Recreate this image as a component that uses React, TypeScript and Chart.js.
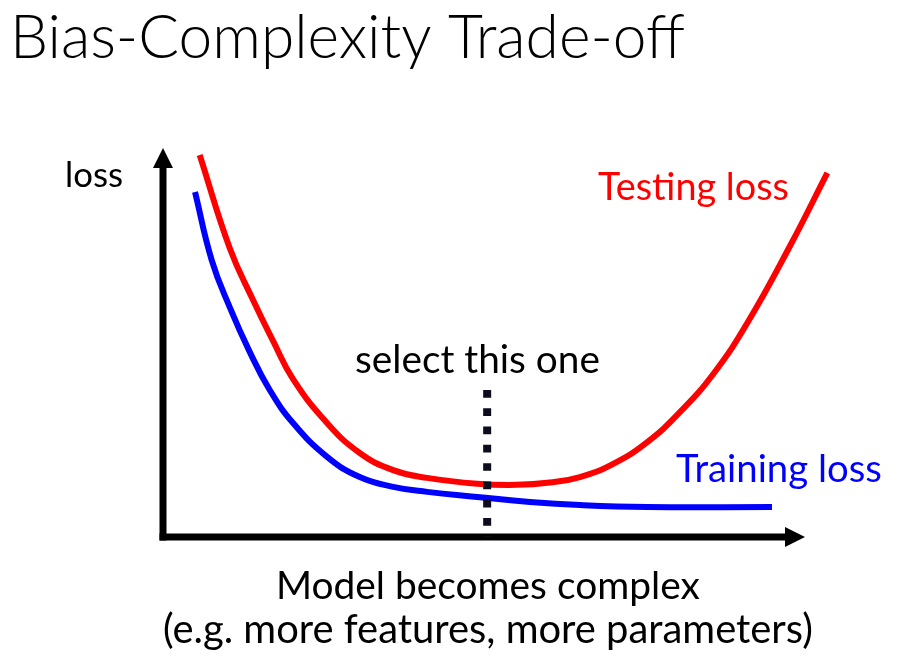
import { useEffect, useRef } from 'react';
import { Chart, registerables } from 'chart.js';

Chart.register(...registerables);

// Testing loss curve (model complexity -> loss)
const testingX = [5.5, 10.0, 13.5, 16.5, 19.5, 24.6, 29.5, 34.5, 39.6, 47.1, 53.0, 58.0, 62.5, 67.5, 72.6, 77.5, 82.5, 87.6, 94.0, 99.6];
const testingY = [98.2, 74.3, 60.9, 50.4, 40.6, 29.3, 21.6, 17.2, 15.2, 13.7, 13.4, 14.0, 15.4, 18.8, 24.4, 32.1, 41.9, 55.0, 74.8, 93.6];

// Training loss curve
const trainingX = [4.8, 7.3, 10.0, 13.0, 16.0, 19.5, 24.6, 29.5, 34.5, 39.6, 47.1, 55.0, 62.5, 72.6, 91.3];
const trainingY = [88.7, 71.2, 59.1, 47.6, 37.8, 29.3, 20.6, 15.4, 12.9, 11.6, 10.3, 9.0, 8.2, 7.7, 7.7];

// "select this one" marker
const selectX = [48.6, 48.6];
const selectY = [37.8, 0];

const X_AXIS_END = 96.25;

const TITLE = 'Bias-Complexity Trade-off';
const Y_LABEL = 'loss';
const TEST_LABEL = 'Testing loss';
const TRAIN_LABEL = 'Training loss';
const SELECT_LABEL = 'select this one';
const X_LABEL_1 = 'Model becomes complex';
const X_LABEL_2 = '(e.g. more features, more parameters)';

const FAMILY = "Lato, 'Open Sans', 'Noto Sans', sans-serif";

function zip(xs: number[], ys: number[]) {
  return xs.map((x, i) => ({ x, y: ys[i] }));
}

function fitText(
  ctx: CanvasRenderingContext2D,
  text: string,
  x0: number,
  x1: number,
  baseline: number,
  color: string,
  weight = '400'
) {
  ctx.font = `${weight} 100px ${FAMILY}`;
  const w = ctx.measureText(text).width;
  const size = (100 * (x1 - x0)) / w;
  ctx.font = `${weight} ${size}px ${FAMILY}`;
  ctx.fillStyle = color;
  ctx.textAlign = 'left';
  ctx.textBaseline = 'alphabetic';
  ctx.fillText(text, x0, baseline);
}

const decorPlugin = {
  id: 'decor',
  beforeDatasetsDraw(chart: any) {
    const { ctx, chartArea, scales } = chart;
    const left = chartArea.left;
    const bottom = chartArea.bottom;
    const top = chartArea.top;
    const xEnd = scales.x.getPixelForValue(X_AXIS_END);
    ctx.save();
    ctx.strokeStyle = '#000';
    ctx.fillStyle = '#000';
    ctx.lineWidth = 7;
    ctx.lineCap = 'butt';
    // y axis
    ctx.beginPath();
    ctx.moveTo(left, bottom + 3.5);
    ctx.lineTo(left, top + 18);
    ctx.stroke();
    ctx.beginPath();
    ctx.moveTo(left, top);
    ctx.lineTo(left - 10, top + 20);
    ctx.lineTo(left + 10, top + 20);
    ctx.closePath();
    ctx.fill();
    // x axis
    ctx.beginPath();
    ctx.moveTo(left - 3.5, bottom);
    ctx.lineTo(xEnd - 18, bottom);
    ctx.stroke();
    ctx.beginPath();
    ctx.moveTo(xEnd, bottom);
    ctx.lineTo(xEnd - 20, bottom - 10);
    ctx.lineTo(xEnd - 20, bottom + 10);
    ctx.closePath();
    ctx.fill();
    ctx.restore();
  },
  afterDraw(chart: any) {
    const { ctx } = chart;
    ctx.save();
    fitText(ctx, TITLE, 10, 685, 58, '#000', '300');
    fitText(ctx, Y_LABEL, 65, 123, 187, '#000');
    fitText(ctx, TEST_LABEL, 598, 789, 200, '#ff0000');
    fitText(ctx, SELECT_LABEL, 355, 600, 373, '#000');
    fitText(ctx, TRAIN_LABEL, 676, 882, 482, '#0000ff');
    fitText(ctx, X_LABEL_1, 276, 700, 599, '#000');
    fitText(ctx, X_LABEL_2, 163, 813, 643, '#000');
    ctx.restore();
  },
};

export default function App() {
  const ref = useRef<HTMLCanvasElement | null>(null);

  useEffect(() => {
    if (!ref.current) return;
    const chart = new Chart(ref.current, {
      type: 'line',
      data: {
        datasets: [
          {
            label: 'select',
            data: zip(selectX, selectY),
            borderColor: '#0c0c1e',
            borderWidth: 8,
            borderDash: [7.7, 10.6],
            borderCapStyle: 'butt',
            pointRadius: 0,
            tension: 0,
            clip: false,
          },
          {
            label: TEST_LABEL,
            data: zip(testingX, testingY),
            borderColor: '#ff0000',
            borderWidth: 6,
            borderCapStyle: 'butt',
            borderJoinStyle: 'round',
            tension: 0.45,
            pointRadius: 0,
            clip: false,
          },
          {
            label: TRAIN_LABEL,
            data: zip(trainingX, trainingY),
            borderColor: '#0000ff',
            borderWidth: 6,
            borderCapStyle: 'butt',
            borderJoinStyle: 'round',
            tension: 0.45,
            pointRadius: 0,
            clip: false,
          },
        ],
      },
      options: {
        responsive: false,
        animation: false,
        events: [],
        layout: { padding: { left: 163, right: 91, top: 148, bottom: 131 } },
        scales: {
          x: { type: 'linear', min: 0, max: 100, display: false },
          y: { type: 'linear', min: 0, max: 100, display: false },
        },
        plugins: {
          legend: { display: false },
          tooltip: { enabled: false },
          title: { display: false },
        },
      },
      plugins: [decorPlugin],
    } as any);
    return () => chart.destroy();
  }, []);

  return (
    <div style={{ position: 'fixed', left: 0, top: 0, width: 921, height: 668, background: '#fff' }}>
      <canvas ref={ref} width={921} height={668} style={{ display: 'block' }} />
    </div>
  );
}
